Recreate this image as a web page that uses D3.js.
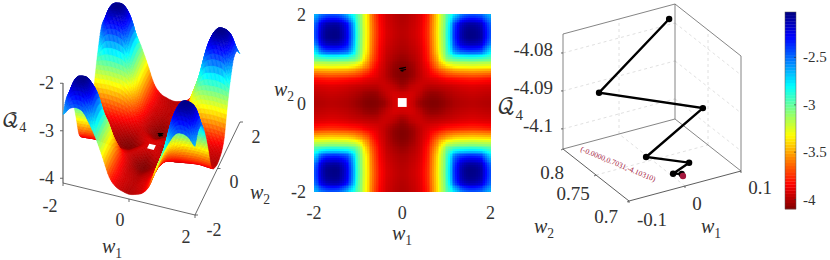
<!DOCTYPE html>
<html>
<head>
<meta charset="utf-8">
<script src="https://cdnjs.cloudflare.com/ajax/libs/d3/7.8.5/d3.min.js"></script>
<style>
  html, body { margin: 0; padding: 0; background: #fff; }
  text { font-family: "Liberation Serif", serif; fill: #333; }
  .mathvar { font-style: italic; }
</style>
</head>
<body>
<div id="chart"></div>
<script>
// Grid of the surface, both panels on the left read the same values
const gridW = [-2, -1.8, -1.6, -1.4, -1.2, -1, -0.8, -0.6, -0.4, -0.2, 0, 0.2, 0.4, 0.6, 0.8, 1, 1.2, 1.4, 1.6, 1.8, 2];

// One row per w2, from -2 to 2
const gridQ = [
  [-2.66,-2.50,-2.45,-2.50,-2.72,-3.00,-3.36,-3.74,-3.91,-3.97,-4.00,-3.97,-3.91,-3.74,-3.36,-3.00,-2.72,-2.50,-2.45,-2.50,-2.66],
  [-2.50,-2.20,-2.12,-2.16,-2.42,-2.96,-3.35,-3.72,-3.90,-3.96,-3.99,-3.96,-3.90,-3.72,-3.35,-2.96,-2.42,-2.16,-2.12,-2.20,-2.50],
  [-2.45,-2.12,-2.04,-2.08,-2.36,-2.94,-3.34,-3.71,-3.89,-3.95,-3.98,-3.95,-3.89,-3.71,-3.34,-2.94,-2.36,-2.08,-2.04,-2.12,-2.45],
  [-2.50,-2.16,-2.08,-2.12,-2.38,-2.95,-3.35,-3.72,-3.90,-3.96,-3.99,-3.96,-3.90,-3.72,-3.35,-2.95,-2.38,-2.12,-2.08,-2.16,-2.50],
  [-2.72,-2.42,-2.36,-2.38,-2.52,-2.98,-3.37,-3.74,-3.92,-3.98,-4.01,-3.98,-3.92,-3.74,-3.37,-2.98,-2.52,-2.38,-2.36,-2.42,-2.72],
  [-3.00,-2.96,-2.94,-2.95,-2.98,-3.10,-3.46,-3.77,-3.94,-4.01,-4.05,-4.01,-3.94,-3.77,-3.46,-3.10,-2.98,-2.95,-2.94,-2.96,-3.00],
  [-3.36,-3.35,-3.34,-3.35,-3.37,-3.46,-3.62,-3.84,-3.96,-4.05,-4.09,-4.05,-3.96,-3.84,-3.62,-3.46,-3.37,-3.35,-3.34,-3.35,-3.36],
  [-3.74,-3.72,-3.71,-3.72,-3.74,-3.77,-3.84,-3.90,-3.97,-4.05,-4.09,-4.05,-3.97,-3.90,-3.84,-3.77,-3.74,-3.72,-3.71,-3.72,-3.74],
  [-3.91,-3.90,-3.89,-3.90,-3.92,-3.94,-3.96,-3.97,-3.95,-3.98,-4.04,-3.98,-3.95,-3.97,-3.96,-3.94,-3.92,-3.90,-3.89,-3.90,-3.91],
  [-3.97,-3.96,-3.95,-3.96,-3.98,-4.01,-4.05,-4.05,-3.98,-3.93,-3.94,-3.93,-3.98,-4.05,-4.05,-4.01,-3.98,-3.96,-3.95,-3.96,-3.97],
  [-4.00,-3.99,-3.98,-3.99,-4.01,-4.05,-4.09,-4.09,-4.04,-3.94,-3.91,-3.94,-4.04,-4.09,-4.09,-4.05,-4.01,-3.99,-3.98,-3.99,-4.00],
  [-3.97,-3.96,-3.95,-3.96,-3.98,-4.01,-4.05,-4.05,-3.98,-3.93,-3.94,-3.93,-3.98,-4.05,-4.05,-4.01,-3.98,-3.96,-3.95,-3.96,-3.97],
  [-3.91,-3.90,-3.89,-3.90,-3.92,-3.94,-3.96,-3.97,-3.95,-3.98,-4.04,-3.98,-3.95,-3.97,-3.96,-3.94,-3.92,-3.90,-3.89,-3.90,-3.91],
  [-3.74,-3.72,-3.71,-3.72,-3.74,-3.77,-3.84,-3.90,-3.97,-4.05,-4.09,-4.05,-3.97,-3.90,-3.84,-3.77,-3.74,-3.72,-3.71,-3.72,-3.74],
  [-3.36,-3.35,-3.34,-3.35,-3.37,-3.46,-3.62,-3.84,-3.96,-4.05,-4.09,-4.05,-3.96,-3.84,-3.62,-3.46,-3.37,-3.35,-3.34,-3.35,-3.36],
  [-3.00,-2.96,-2.94,-2.95,-2.98,-3.10,-3.46,-3.77,-3.94,-4.01,-4.05,-4.01,-3.94,-3.77,-3.46,-3.10,-2.98,-2.95,-2.94,-2.96,-3.00],
  [-2.72,-2.42,-2.36,-2.38,-2.52,-2.98,-3.37,-3.74,-3.92,-3.98,-4.01,-3.98,-3.92,-3.74,-3.37,-2.98,-2.52,-2.38,-2.36,-2.42,-2.72],
  [-2.50,-2.16,-2.08,-2.12,-2.38,-2.95,-3.35,-3.72,-3.90,-3.96,-3.99,-3.96,-3.90,-3.72,-3.35,-2.95,-2.38,-2.12,-2.08,-2.16,-2.50],
  [-2.45,-2.12,-2.04,-2.08,-2.36,-2.94,-3.34,-3.71,-3.89,-3.95,-3.98,-3.95,-3.89,-3.71,-3.34,-2.94,-2.36,-2.08,-2.04,-2.12,-2.45],
  [-2.50,-2.20,-2.12,-2.16,-2.42,-2.96,-3.35,-3.72,-3.90,-3.96,-3.99,-3.96,-3.90,-3.72,-3.35,-2.96,-2.42,-2.16,-2.12,-2.20,-2.50],
  [-2.66,-2.50,-2.45,-2.50,-2.72,-3.00,-3.36,-3.74,-3.91,-3.97,-4.00,-3.97,-3.91,-3.74,-3.36,-3.00,-2.72,-2.50,-2.45,-2.50,-2.66]
];

// Descent path shown in the right panel
const pathW1 = [0.086, -0.071, 0.085, -0.040, 0.025, -0.013, 0.000];
const pathW2 = [0.797, 0.770, 0.745, 0.725, 0.715, 0.707, 0.705];
const pathQ = [-4.0780, -4.0875, -4.0943, -4.0995, -4.1022, -4.1025, -4.1028];
const finalPoint = [0.0, 0.7031, -4.1031];
const finalLabel = "(-0.0000,0.7031,-4.10310)";
const startW = [0, 0];
const startQ = -3.98;

// Tick labels
const surfW1Ticks = [-2, 0, 2];
const surfW2Ticks = [-2, 0, 2];
const surfQTicks = [-2, -3, -4];
const heatTicks = [-2, 0, 2];
const zoomW1Ticks = [-0.1, 0, 0.1];
const zoomW2Ticks = [0.7, 0.75, 0.8];
const zoomQTicks = [-4.08, -4.09, -4.1];
const barTicks = [-2.5, -3, -3.5, -4];

const svg = d3.select("#chart").append("svg")
  .attr("width", 830)
  .attr("height", 260)
  .style("display", "block");

// Reversed jet colormap
const qMin = -4.1, qMax = -2.02;
const jet = d3.scaleLinear()
  .domain([0, 0.125, 0.375, 0.5, 0.625, 0.875, 1].map(t => qMin + (1 - t) * (qMax - qMin)))
  .range(["#000080", "#0000ff", "#00ffff", "#80ff80", "#ffff00", "#ff0000", "#800000"])
  .interpolate(d3.interpolateRgb)
  .clamp(true);

// Smooth lookup between the grid values, only used for shading
const cellScale = d3.scaleLinear().domain([-2, 2]).range([0, gridW.length - 1]);
const lastIdx = gridW.length - 1;
const at = (r, c) => gridQ[Math.max(0, Math.min(lastIdx, r))][Math.max(0, Math.min(lastIdx, c))];
function catmull(a, b, c, d, t) {
  return b + 0.5 * t * (c - a + t * (2 * a - 5 * b + 4 * c - d + t * (3 * (b - c) + d - a)));
}
function sampleQ(w1, w2) {
  const cx = Math.min(cellScale(w1), lastIdx - 0.001), cy = Math.min(cellScale(w2), lastIdx - 0.001);
  const i = Math.floor(cx), j = Math.floor(cy), fx = cx - i, fy = cy - j;
  const rowVals = [-1, 0, 1, 2].map(dj =>
    catmull(at(j + dj, i - 1), at(j + dj, i), at(j + dj, i + 1), at(j + dj, i + 2), fx));
  return catmull(rowVals[0], rowVals[1], rowVals[2], rowVals[3], fy);
}

function mathLabel(parent, x, y, base, sub, size, family) {
  const t = parent.append("text").attr("x", x).attr("y", y)
    .attr("text-anchor", "middle").attr("class", family ? null : "mathvar").attr("font-size", size);
  const b = t.append("tspan").text(base);
  if (family) b.style("font-family", family);
  t.append("tspan").attr("dy", size * 0.25).attr("font-size", size * 0.68).style("font-style", "normal").text(sub);
  return t;
}

// ---------- left panel: surface ----------
const surf = svg.append("g");
const s1x = d3.scaleLinear().domain([-2, 2]).range([0, 132]);
const s1y = d3.scaleLinear().domain([-2, 2]).range([0, 32]);
const s2x = d3.scaleLinear().domain([-2, 2]).range([0, 45]);
const s2y = d3.scaleLinear().domain([-2, 2]).range([0, -93]);
const sQ = d3.scaleLinear().domain([-4.1, -2]).range([0, -99.75]);
const surfProj = (w1, w2, q) => [63 + s1x(w1) + s2x(w2), 183 + s1y(w1) + s2y(w2) + sQ(q)];

const sub = 5;
const fine = d3.range(0, 20 * sub + 1).map(k => -2 + k * 0.2 / sub);
const quads = [];
for (let j = 0; j < fine.length - 1; j++) {
  for (let i = 0; i < fine.length - 1; i++) {
    const a = fine[i], b = fine[i + 1], c = fine[j], d = fine[j + 1];
    const mid = (sampleQ(a, c) + sampleQ(b, c) + sampleQ(a, d) + sampleQ(b, d)) / 4;
    quads.push({
      depth: 8 * (a + b) - 23.25 * (c + d),
      q: mid,
      pts: [[a, c], [b, c], [b, d], [a, d]].map(p => surfProj(p[0], p[1], sampleQ(p[0], p[1])))
    });
  }
}
quads.sort((p, q) => p.depth - q.depth);

// floor axes go under the surface
surf.append("line").attr("x1", 63).attr("y1", 83).attr("x2", 63).attr("y2", 183).attr("stroke", "#888").attr("stroke-width", 1.6);
const floorPts = [surfProj(-2, -2, -4.1), surfProj(2, -2, -4.1), surfProj(2, 2, -4.1)];
surf.append("path").attr("d", d3.line()(floorPts)).attr("fill", "none").attr("stroke", "#444").attr("stroke-width", 0.8);

surf.selectAll("path.quad")
  .data(quads)
  .enter()
  .append("path")
  .attr("class", "quad")
  .attr("d", d => d3.line()(d.pts) + "Z")
  .attr("fill", d => jet(d.q))
  .attr("stroke", d => jet(d.q))
  .attr("stroke-width", 0.5);

// white square and path markers on the surface
surf.append("path")
  .attr("d", d3.line()([[-0.1, -0.1], [0.1, -0.1], [0.1, 0.1], [-0.1, 0.1]].map(p => surfProj(startW[0] + p[0], startW[1] + p[1], startQ))) + "Z")
  .attr("fill", "#fff");
surf.append("path")
  .attr("d", d3.line()(pathW1.map((w, i) => surfProj(w, pathW2[i], pathQ[i]))))
  .attr("fill", "none").attr("stroke", "#000").attr("stroke-width", 1.1);

// ticks and labels
surfQTicks.forEach(q => {
  const y = surfProj(-2, -2, q)[1];
  surf.append("line").attr("x1", 60).attr("x2", 63).attr("y1", y).attr("y2", y).attr("stroke", "#666");
  surf.append("text").attr("x", 54).attr("y", y + 6).attr("text-anchor", "end").attr("font-size", 18).text(q);
});
const surfW1Pos = { "-2": [50, 212], "0": [120, 226], "2": [186, 243] };
surfW1Ticks.forEach(w => {
  const p = surfProj(w, -2, -4.1);
  surf.append("line").attr("x1", p[0]).attr("y1", p[1]).attr("x2", p[0]).attr("y2", p[1] + 3).attr("stroke", "#444").attr("stroke-width", 0.8);
  surf.append("text").attr("x", surfW1Pos[w][0]).attr("y", surfW1Pos[w][1]).attr("text-anchor", "middle").attr("font-size", 18).text(w);
});
const surfW2Pos = { "-2": [214, 236], "0": [234, 188], "2": [256, 143] };
surfW2Ticks.forEach(w => {
  const p = surfProj(2, w, -4.1);
  surf.append("line").attr("x1", p[0]).attr("y1", p[1]).attr("x2", p[0] + 3).attr("y2", p[1]).attr("stroke", "#444").attr("stroke-width", 0.8);
  surf.append("text").attr("x", surfW2Pos[w][0]).attr("y", surfW2Pos[w][1]).attr("text-anchor", "middle").attr("font-size", 18).text(w);
});
mathLabel(surf, 112, 253, "w", "1", 20);
mathLabel(surf, 260, 199, "w", "2", 20);
mathLabel(surf, 14, 127, "\u{1D4AC}", "4", 21, "'DejaVu Math TeX Gyre'");

// ---------- middle panel: heatmap ----------
const heat = svg.append("g");
const hx = d3.scaleLinear().domain([-2, 2]).range([314, 490.5]);
const hy = d3.scaleLinear().domain([-2, 2]).range([191, 14]);
const hSub = 5;
const hFine = d3.range(0, 20 * hSub).map(k => -2 + k * 0.2 / hSub);
const hCells = [];
hFine.forEach(w2 => hFine.forEach(w1 => hCells.push({ w1, w2 })));
const hStep = 0.2 / hSub;
heat.selectAll("rect.cell")
  .data(hCells)
  .enter()
  .append("rect")
  .attr("class", "cell")
  .attr("x", d => hx(d.w1))
  .attr("y", d => hy(d.w2 + hStep))
  .attr("width", hx(hStep) - hx(0) + 0.6)
  .attr("height", hy(0) - hy(hStep) + 0.6)
  .attr("shape-rendering", "crispEdges")
  .attr("fill", d => jet(sampleQ(d.w1 + hStep / 2, d.w2 + hStep / 2)));

heat.append("rect")
  .attr("x", hx(startW[0] - 0.1)).attr("y", hy(startW[1] + 0.1))
  .attr("width", hx(0.1) - hx(-0.1)).attr("height", hy(-0.1) - hy(0.1))
  .attr("fill", "#fff");
heat.append("path")
  .attr("d", d3.line()(pathW1.map((w, i) => [hx(w), hy(pathW2[i])])))
  .attr("fill", "none").attr("stroke", "#000").attr("stroke-width", 1.1);

heatTicks.forEach(w => {
  heat.append("text").attr("x", hx(w)).attr("y", 219).attr("text-anchor", "middle").attr("font-size", 18).text(w);
  heat.append("text").attr("x", 306).attr("y", hy(w) + 7).attr("text-anchor", "end").attr("font-size", 18).text(w);
});
mathLabel(heat, 402, 240, "w", "1", 20);
mathLabel(heat, 284, 96, "w", "2", 20);

// ---------- right panel: zoomed descent path ----------
const zoomP = svg.append("g");
const z1x = d3.scaleLinear().domain([-0.1, 0.1]).range([0, 112]);
const z1y = d3.scaleLinear().domain([-0.1, 0.1]).range([0, -30]);
const z2x = d3.scaleLinear().domain([0.7, 0.8]).range([0, -66]);
const z2y = d3.scaleLinear().domain([0.7, 0.8]).range([0, -52]);
const zQ = d3.scaleLinear().domain([-4.1053, -4.075]).range([0, -115]);
const zProj = (w1, w2, q) => [629 + z1x(w1) + z2x(w2), 201 + z1y(w1) + z2y(w2) + zQ(q)];
const qLo = -4.1053, qHi = -4.075;

function seg(a, b, color, width, dash) {
  zoomP.append("line")
    .attr("x1", a[0]).attr("y1", a[1]).attr("x2", b[0]).attr("y2", b[1])
    .attr("stroke", color).attr("stroke-width", width)
    .attr("stroke-dasharray", dash || null);
}

// dashed grid on the back walls and floor
const gridColor = "#d8d8d8";
zoomQTicks.forEach(q => {
  seg(zProj(-0.1, 0.8, q), zProj(0.1, 0.8, q), gridColor, 0.8, "3,3");
  seg(zProj(0.1, 0.8, q), zProj(0.1, 0.7, q), gridColor, 0.8, "3,3");
});
seg(zProj(0, 0.8, qLo), zProj(0, 0.8, qHi), gridColor, 0.8, "3,3");
seg(zProj(0.1, 0.75, qLo), zProj(0.1, 0.75, qHi), gridColor, 0.8, "3,3");
seg(zProj(0, 0.7, qLo), zProj(0, 0.8, qLo), gridColor, 0.8, "3,3");
seg(zProj(-0.1, 0.75, qLo), zProj(0.1, 0.75, qLo), gridColor, 0.8, "3,3");

// box edges
const boxColor = "#666";
seg(zProj(-0.1, 0.8, qHi), zProj(0.1, 0.8, qHi), boxColor, 0.8);
seg(zProj(0.1, 0.8, qHi), zProj(0.1, 0.7, qHi), boxColor, 0.8);
seg(zProj(-0.1, 0.8, qLo), zProj(-0.1, 0.8, qHi), boxColor, 0.8);
seg(zProj(0.1, 0.8, qLo), zProj(0.1, 0.8, qHi), boxColor, 0.8);
seg(zProj(0.1, 0.7, qLo), zProj(0.1, 0.7, qHi), boxColor, 0.8);
seg(zProj(-0.1, 0.8, qLo), zProj(0.1, 0.8, qLo), boxColor, 0.8);
seg(zProj(0.1, 0.8, qLo), zProj(0.1, 0.7, qLo), boxColor, 0.8);
seg(zProj(-0.1, 0.8, qLo), zProj(-0.1, 0.7, qLo), "#333", 0.8);
seg(zProj(-0.1, 0.7, qLo), zProj(0.1, 0.7, qLo), "#333", 0.8);

// ticks
zoomQTicks.forEach(q => {
  const p = zProj(-0.1, 0.8, q);
  seg([p[0] - 2, p[1]], p, "#444", 0.8);
  zoomP.append("text").attr("x", 553).attr("y", p[1] + 3).attr("text-anchor", "end").attr("font-size", 19).text(q);
});
const zoomW1Pos = { "-0.1": [652, 226], "0": [697, 210], "0.1": [760, 194] };
zoomW1Ticks.forEach(w => {
  const p = zProj(w, 0.7, qLo);
  seg(p, [p[0], p[1] + 2], "#444", 0.8);
  zoomP.append("text").attr("x", zoomW1Pos[w][0]).attr("y", zoomW1Pos[w][1]).attr("text-anchor", "middle").attr("font-size", 19).text(w);
});
const zoomW2Pos = { "0.7": [606, 223], "0.75": [573, 200], "0.8": [552, 179] };
zoomW2Ticks.forEach(w => {
  const p = zProj(-0.1, w, qLo);
  seg(p, [p[0] - 2, p[1] + 1], "#444", 0.8);
  zoomP.append("text").attr("x", zoomW2Pos[w][0]).attr("y", zoomW2Pos[w][1]).attr("text-anchor", "middle").attr("font-size", 19).text(w);
});

// path, dots and the end point
const pathPts = pathW1.map((w, i) => zProj(w, pathW2[i], pathQ[i]));
zoomP.append("path")
  .attr("d", d3.line()(pathPts))
  .attr("fill", "none").attr("stroke", "#000").attr("stroke-width", 2.4);
zoomP.selectAll("circle.step")
  .data(pathPts)
  .enter()
  .append("circle")
  .attr("class", "step")
  .attr("cx", d => d[0]).attr("cy", d => d[1]).attr("r", 3.2)
  .attr("fill", "#000");
const endPt = zProj(finalPoint[0], finalPoint[1], finalPoint[2]);
zoomP.append("circle").attr("cx", endPt[0]).attr("cy", endPt[1]).attr("r", 3.2).attr("fill", "#a3163c");
zoomP.append("text")
  .attr("transform", "translate(580,151) rotate(22.5)")
  .attr("font-size", 7.6)
  .style("fill", "#a3163c")
  .text(finalLabel);

mathLabel(zoomP, 711, 233, "w", "1", 20);
mathLabel(zoomP, 544, 233, "w", "2", 20);
mathLabel(zoomP, 510, 114, "\u{1D4AC}", "4", 22, "'DejaVu Math TeX Gyre'");

// ---------- colorbar ----------
const bar = svg.append("g");
const by = d3.scaleLinear().domain([qMin, qMax]).range([209, 12]);
const barBands = d3.range(64);
bar.selectAll("rect.band")
  .data(barBands)
  .enter()
  .append("rect")
  .attr("class", "band")
  .attr("x", 785).attr("width", 11)
  .attr("y", d => by(qMin + (d + 1) * (qMax - qMin) / 64))
  .attr("height", by(qMin) - by(qMin + (qMax - qMin) / 64) + 0.3)
  .attr("fill", d => jet(qMin + (d + 0.5) * (qMax - qMin) / 64));
bar.append("rect").attr("x", 785).attr("y", 12).attr("width", 11).attr("height", 197)
  .attr("fill", "none").attr("stroke", "#555").attr("stroke-width", 0.5);
barTicks.forEach(v => {
  bar.append("line").attr("x1", 794).attr("x2", 796).attr("y1", by(v)).attr("y2", by(v)).attr("stroke", "#333").attr("stroke-width", 0.6);
  bar.append("text").attr("x", 803).attr("y", by(v) + 5).attr("font-size", 15).text(v);
});
</script>
</body>
</html>
